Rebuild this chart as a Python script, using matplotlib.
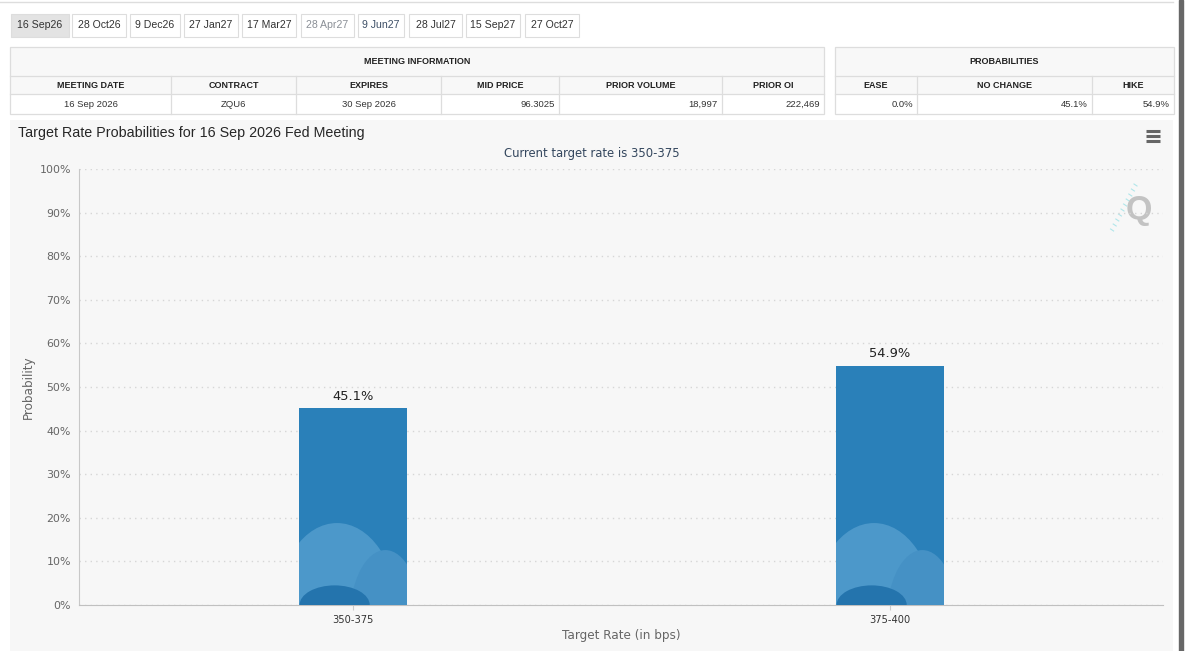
import matplotlib
matplotlib.use("Agg")
import matplotlib.pyplot as plt
from matplotlib.patches import Rectangle, Ellipse

W, H = 1199, 651

# data
tabs = ["16 Sep26", "28 Oct26", "9 Dec26", "27 Jan27", "17 Mar27",
        "28 Apr27", "9 Jun27", "28 Jul27", "15 Sep27", "27 Oct27"]
info_headers = ["MEETING DATE", "CONTRACT", "EXPIRES", "MID PRICE",
                "PRIOR VOLUME", "PRIOR OI"]
info_values = ["16 Sep 2026", "ZQU6", "30 Sep 2026", "96.3025", "18,997", "222,469"]
prob_headers = ["EASE", "NO CHANGE", "HIKE"]
prob_values = ["0.0%", "45.1%", "54.9%"]
rates = ["350-375", "375-400"]
probs = [45.1, 54.9]
current_rate = "350-375"
meeting = "16 Sep 2026"

# layout (pixels)
tab_edges = [(11, 69), (72, 126), (130, 180), (184, 238), (242, 296),
             (301, 354), (358, 404), (409, 462), (466, 520), (525, 579)]
info_cols = [10, 171, 296, 441, 559, 722, 824]
info_align = ["center", "center", "center", "right", "right", "right"]
prob_cols = [835, 917, 1092, 1174]
rows = [47, 76, 94, 114]

TFONT = "Liberation Sans"
CFONT = "DejaVu Sans"


def pt(px):
    return px * 72 / 100


fig = plt.figure(figsize=(W / 100, H / 100), dpi=100)
fig.patch.set_facecolor("white")

bg = fig.add_axes([0, 0, 1, 1])
bg.set_xlim(0, W)
bg.set_ylim(H, 0)
bg.axis("off")

# page chrome
bg.plot([0, 1173], [2, 2], color="#dddddd", lw=1)
bg.add_patch(Rectangle((1179, 0), 3.5, H, color="#676767"))

# tabs
for i, (label, (a, b)) in enumerate(zip(tabs, tab_edges)):
    face = "#e3e3e3" if i == 0 else "white"
    bg.add_patch(Rectangle((a, 14), b - a, 23, facecolor=face,
                           edgecolor="#dddddd", lw=0.8))
    col = "#333333"
    if label == "28 Apr27":
        col = "#8a8f96"
    elif label == "9 Jun27":
        col = "#3d4f66"
    bg.text((a + b) / 2, 25.5, label, ha="center", va="center",
            fontsize=pt(10.5), color=col, family=TFONT)


def draw_table(cols, title, headers, values, aligns):
    x0, x1 = cols[0], cols[-1]
    bg.add_patch(Rectangle((x0, rows[0]), x1 - x0, rows[2] - rows[0],
                           facecolor="#f8f8f8", edgecolor="none"))
    bg.add_patch(Rectangle((x0, rows[2]), x1 - x0, rows[3] - rows[2],
                           facecolor="white", edgecolor="none"))
    bg.add_patch(Rectangle((x0, rows[0]), x1 - x0, rows[3] - rows[0],
                           facecolor="none", edgecolor="#dddddd", lw=0.9))
    for y in rows[1:3]:
        bg.plot([x0, x1], [y, y], color="#dddddd", lw=0.9)
    for x in cols[1:-1]:
        bg.plot([x, x], [rows[1], rows[3]], color="#dddddd", lw=0.9)
    bg.text((x0 + x1) / 2, (rows[0] + rows[1]) / 2 + 0.5, title, ha="center",
            va="center", fontsize=pt(9), weight="bold", color="#222222",
            family=TFONT)
    for i, (hd, val, al) in enumerate(zip(headers, values, aligns)):
        a, b = cols[i], cols[i + 1]
        bg.text((a + b) / 2, (rows[1] + rows[2]) / 2 + 0.5, hd, ha="center",
                va="center", fontsize=pt(9), weight="bold", color="#222222",
                family=TFONT)
        xv = (a + b) / 2 if al == "center" else b - 4
        bg.text(xv, (rows[2] + rows[3]) / 2 + 0.5, val, ha=al, va="center",
                fontsize=pt(9.5), color="#333333", family=TFONT)


draw_table(info_cols, "MEETING INFORMATION", info_headers, info_values, info_align)
draw_table(prob_cols, "PROBABILITIES", prob_headers, prob_values,
           ["right", "right", "right"])

# chart panel
bg.add_patch(Rectangle((10, 120), 1163, H - 120, facecolor="#f7f7f7",
                       edgecolor="none"))
bg.text(18, 133, f"Target Rate Probabilities for {meeting} Fed Meeting",
        ha="left", va="center", fontsize=pt(14.25), color="#262626", family=TFONT)
bg.text(591.5, 154, f"Current target rate is {current_rate}", ha="center",
        va="center", fontsize=pt(11.6), color="#34475e", family=CFONT)
for y in (131, 136, 141):
    bg.plot([1146, 1160], [y, y], color="#666666", lw=2.2,
            solid_capstyle="butt")
# Q logo
for k in range(10):
    y = 184 + k * 5
    bg.plot([1134 - k * 2.6, 1140 - k * 2.6 - 3], [y, y + 2], color="#b0e6ea",
            lw=0.8)
bg.text(1139, 211, "Q", ha="center", va="center", fontsize=pt(34),
        weight="bold", color="#c3c3c3", family=TFONT)

# plot area
x0, x1, yt, yb = 79, 1163, 169, 605
ax = fig.add_axes([x0 / W, 1 - yb / H, (x1 - x0) / W, (yb - yt) / H])
ax.set_facecolor("none")
xs = list(range(len(rates)))
bars = ax.bar(xs, probs, width=0.201, color="#2a80b9", zorder=3)
for b, p in zip(bars, probs):
    bx, bw = b.get_x(), b.get_width()
    # watermark clouds showing through the bars
    for fx, cy, fw, hh, c in [(0.352, -1.2, 1.11, 40, "#4c98ca"),
                              (0.80, -3.4, 0.66, 32, "#4591c5"),
                              (0.33, 0.0, 0.65, 9, "#2474ad")]:
        e = Ellipse((bx + fx * bw, cy), fw * bw, hh, color=c, zorder=3.5,
                    lw=0)
        ax.add_patch(e)
        e.set_clip_path(b)
    ax.text(bx + bw / 2, p + 1.3, f"{p:.1f}%", ha="center",
            va="bottom", fontsize=pt(13), color="#222222", family=CFONT)
ax.set_xlim(-0.5102, 1.5084)
ax.set_ylim(0, 100)
ax.set_yticks(range(0, 101, 10))
ax.set_yticklabels([f"{v}%" for v in range(0, 101, 10)], family=CFONT,
                   fontsize=pt(11), color="#666666")
ax.set_xticks(xs)
ax.set_xticklabels(rates, family=CFONT, fontsize=pt(11), color="#333333",
                   stretch="condensed")
ax.tick_params(axis="y", length=0, pad=pt(8))
ax.tick_params(axis="x", length=pt(5), color="#cccccc", pad=pt(5))
ax.grid(axis="y", color="#d6d6d6", linestyle=(0, (1, 3)), lw=1, zorder=0)
for s in ("top", "right"):
    ax.spines[s].set_visible(False)
ax.spines["left"].set_color("#c8c8c8")
ax.spines["bottom"].set_color("#c0c0c0")
ax.set_xlabel("Target Rate (in bps)", family=CFONT, fontsize=pt(12),
              color="#666666", labelpad=pt(4))
ax.set_ylabel("Probability", family=CFONT, fontsize=pt(12), color="#666666",
              labelpad=pt(5))

fig.savefig("out.png", dpi=100)
